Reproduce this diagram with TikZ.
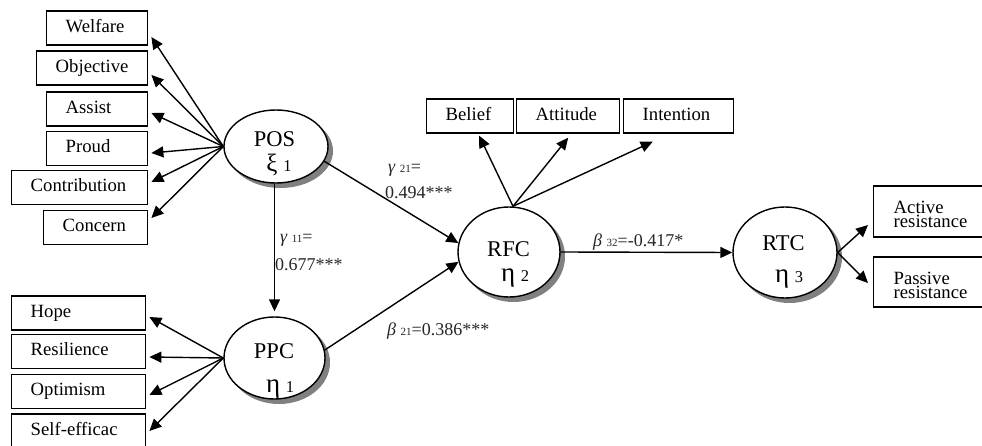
\documentclass[tikz,border=0pt]{standalone}
\usepackage{fontspec}
\setmainfont{Liberation Serif}
\usetikzlibrary{arrows.meta,shapes.geometric,calc}
\begin{document}
\begin{tikzpicture}[x=1pt,y=-1pt,
 ind/.style={draw, line width=1.4pt, anchor=west, inner xsep=19pt, inner ysep=0pt, align=left,
   text height=13pt, text depth=4.5pt, minimum height=34pt, font=\fontsize{18.7}{13}\selectfont},
 ind2/.style={draw, line width=1.4pt, anchor=west, inner xsep=20pt, inner ysep=0pt, align=left,
   text depth=8pt, font=\fontsize{18.7}{14}\selectfont},
 lat/.style={draw, ellipse, line width=1.4pt, fill=white, inner sep=0pt},
 shad/.style={fill=black!50},
 lt/.style={anchor=base, inner sep=0pt, font=\fontsize{22.5}{22.5}\selectfont},
 arr/.style={line width=1.4pt, -{Triangle[length=12pt,width=11pt]}},
 lab/.style={anchor=base west, inner sep=0pt, text=black!85, font=\fontsize{18}{18}\selectfont}
]
\useasboundingbox (0,0) rectangle (982,446);

% indicator boxes of POS
\node[ind, text width=63pt] (welfare) at (46,28) {Welfare};
\node[ind, text width=73pt] (objective) at (36,68) {Objective};
\node[ind, text width=63pt] (assist) at (46,109) {Assist};
\node[ind, text width=63pt] (proud) at (46,148.5) {Proud};
\node[ind, text width=98pt] (contribution) at (11,187.5) {Contribution};
\node[ind, text width=66pt] (concern) at (43,227.5) {Concern};

% indicator boxes of PPC
\node[ind, text width=96pt] (hope) at (11,313) {Hope};
\node[ind, text width=96pt] (resilience) at (11,351.5) {Resilience};
\node[ind, text width=96pt] (optimism) at (11,391.5) {Optimism};
\node[ind, text width=96pt] (selfeff) at (11,431) {Self-efficac};

% indicator boxes of RFC
\node[ind, text width=49pt] (belief) at (426,116) {Belief};
\node[ind, text width=65pt] (attitude) at (516,116) {Attitude};
\node[ind, text width=72pt] (intention) at (623,116) {Intention};

% indicator boxes of RTC
\node[ind2, text width=77pt, minimum height=51pt] (active) at (873,211.5) {Active\\resistance};
\node[ind2, text width=77pt, minimum height=50pt] (passive) at (873,282) {Passive\\resistance};

% shadows of the latent variables
\fill[shad] (280.5,151) ellipse [x radius=52.5pt, y radius=37pt];
\fill[shad] (279,362.5) ellipse [x radius=51pt, y radius=41.5pt];
\fill[shad] (513.5,256.5) ellipse [x radius=51.5pt, y radius=45.5pt];
\fill[shad] (789.5,257) ellipse [x radius=52.5pt, y radius=46pt];

% latent variables
\node[lat, minimum width=104pt, minimum height=73pt] (pos) at (276,146.5) {};
\node[lat, minimum width=101pt, minimum height=82pt] (ppc) at (274.5,358) {};
\node[lat, minimum width=102pt, minimum height=90pt] (rfc) at (509,252) {};
\node[lat, minimum width=104pt, minimum height=91pt] (rtc) at (785,252.5) {};

\node[lt] (posA) at (274.5,147) {POS};
\node[lt] (posB) at (279,172) {{\fontsize{25}{25}\selectfont ξ} {\fontsize{16.5}{16.5}\selectfont 1}};
\node[lt] (ppcA) at (274,358) {PPC};
\node[lt] (ppcB) at (280,392) {{\fontsize{27}{27}\selectfont η} {\fontsize{16.5}{16.5}\selectfont 1}};
\node[lt] (rfcA) at (508.5,257) {RFC};
\node[lt] (rfcB) at (515,282) {{\fontsize{27}{27}\selectfont η} {\fontsize{16.5}{16.5}\selectfont 2}};
\node[lt] (rtcA) at (783.5,251) {RTC};
\node[lt] (rtcB) at (789,283) {{\fontsize{27}{27}\selectfont η} {\fontsize{16.5}{16.5}\selectfont 3}};

% loadings of POS
\draw[arr] (pos.west) -- ([xshift=3pt,yshift=-9pt]welfare.east);
\draw[arr] (pos.west) -- ([xshift=3pt,yshift=-7pt]objective.east);
\draw[arr] (pos.west) -- ([xshift=3pt,yshift=-4pt]assist.east);
\draw[arr] (pos.west) -- ([xshift=3pt,yshift=-4.5pt]proud.east);
\draw[arr] (pos.west) -- ([xshift=3pt,yshift=5.5pt]contribution.east);
\draw[arr] (pos.west) -- ([xshift=3pt,yshift=9.5pt]concern.east);

% loadings of PPC
\draw[arr] (ppc.west) -- ([xshift=3pt,yshift=-4pt]hope.east);
\draw[arr] (ppc.west) -- ([xshift=3pt,yshift=-5.5pt]resilience.east);
\draw[arr] (ppc.west) -- ([xshift=3pt,yshift=-3.5pt]optimism.east);
\draw[arr] (ppc.west) -- ([xshift=3pt,yshift=0pt]selfeff.east);

% loadings of RFC
\coordinate (rfctop) at ($(rfc.north)+(4,0)$);
\draw[arr] (rfctop) -- ([xshift=9pt,yshift=-2pt]belief.south);
\draw[arr] (rfctop) -- ([yshift=-4pt]attitude.south);
\draw[arr] (rfctop) -- ([xshift=-26pt,yshift=-8pt]intention.south);

% loadings of RTC
\draw[arr] (rtc.east) -- ([xshift=-5pt,yshift=-13.5pt]active.west);
\draw[arr] (rtc.east) -- ([xshift=-5pt,yshift=-1pt]passive.west);

% structural paths
\draw[arr] (ppc.north |- pos.south) -- ([yshift=5pt]ppc.north);
\draw[arr] (pos.-17) -- (rfc.170);
\draw[arr] (ppc.9) -- (rfc.191);
\draw[arr] (rfc.east) -- (rtc.west);

% path labels
\node[lab] (g21a) at (388,173) {{\itshape γ} {\fontsize{11}{11}\selectfont 21}=};
\node[lab] (g21b) at (385,199) {0.494***};
\node[lab] (g11a) at (280,243) {{\itshape γ} {\fontsize{11}{11}\selectfont 11}=};
\node[lab] (g11b) at (275,270) {0.677***};
\node[lab] (b21) at (387,335) {{\itshape β} {\fontsize{11}{11}\selectfont 21}=0.386***};
\node[lab] (b32) at (593,247) {{\itshape β} {\fontsize{11}{11}\selectfont 32}=-0.417*};
\end{tikzpicture}
\end{document}
